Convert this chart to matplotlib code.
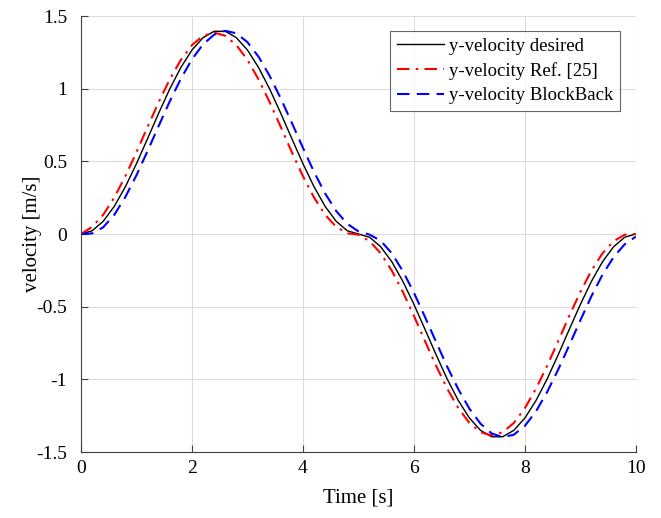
import numpy as np
import matplotlib
matplotlib.use('Agg')
import matplotlib.pyplot as plt

# sample times (s)
t = [round(0.2 * i, 1) for i in range(51)]

# y-velocity desired
v_desired = [0, 0.022, 0.087, 0.190, 0.325, 0.484, 0.656, 0.831, 0.998, 1.146,
             1.266, 1.351, 1.395, 1.395, 1.351, 1.266, 1.146, 0.998, 0.831, 0.656,
             0.484, 0.325, 0.190, 0.087, 0.022, 0,
             -0.022, -0.087, -0.190, -0.325, -0.484, -0.656, -0.831, -0.998, -1.146,
             -1.266, -1.351, -1.395, -1.395, -1.351, -1.266, -1.146, -0.998, -0.831,
             -0.656, -0.484, -0.325, -0.190, -0.087, -0.022, 0]

# y-velocity Ref. [25]
v_ref = [0, 0.049, 0.132, 0.251, 0.398, 0.563, 0.737, 0.907, 1.064, 1.198,
         1.300, 1.364, 1.386, 1.364, 1.300, 1.198, 1.064, 0.907, 0.737, 0.563,
         0.398, 0.251, 0.132, 0.049, 0.005, -0.005,
         -0.049, -0.132, -0.251, -0.398, -0.563, -0.737, -0.907, -1.064, -1.198,
         -1.300, -1.364, -1.386, -1.364, -1.300, -1.198, -1.064, -0.907, -0.737,
         -0.563, -0.398, -0.251, -0.132, -0.049, -0.005, 0]

# y-velocity BlockBack
v_block = [0, 0.004, 0.046, 0.132, 0.255, 0.404, 0.571, 0.743, 0.913, 1.068,
           1.202, 1.305, 1.372, 1.398, 1.381, 1.320, 1.220, 1.088, 0.933, 0.765,
           0.593, 0.427, 0.279, 0.158, 0.070, 0.018,
           -0.004, -0.046, -0.132, -0.255, -0.404, -0.571, -0.743, -0.913, -1.068,
           -1.202, -1.305, -1.372, -1.398, -1.381, -1.320, -1.220, -1.088, -0.933,
           -0.765, -0.593, -0.427, -0.279, -0.158, -0.070, -0.018]

xticks = [0, 2, 4, 6, 8, 10]
yticks = [-1.5, -1, -0.5, 0, 0.5, 1, 1.5]
ytick_labels = ['-1.5', '-1', '-0.5', '0', '0.5', '1', '1.5']

plt.rcParams['font.family'] = ['Liberation Serif', 'DejaVu Serif']

fig = plt.figure(figsize=(6.61, 5.18), dpi=100)
ax = fig.add_axes([0.1225, 0.1274, 0.8395, 0.8417])

ax.plot(t, v_desired, color='black', lw=1.0, label='y-velocity desired')
ax.plot(t, v_ref, color='red', lw=1.5, ls=(0, (6, 3, 1.2, 3)), label='y-velocity Ref. [25]')
ax.plot(t, v_block, color='blue', lw=1.5, ls=(0, (6, 3.5)), label='y-velocity BlockBack')

ax.set_xlim(0, 10)
ax.set_ylim(-1.5, 1.5)
ax.set_xticks(xticks)
ax.set_yticks(yticks)
ax.set_yticklabels(ytick_labels)
ax.grid(True, color='#dcdcdc', lw=0.8)
ax.set_axisbelow(True)

for s in ['top', 'right']:
    ax.spines[s].set_visible(False)
for s in ['left', 'bottom']:
    ax.spines[s].set_color('#404040')
    ax.spines[s].set_linewidth(0.8)
ax.tick_params(direction='in', length=5, width=0.8, color='#404040', labelsize=14)
ax.tick_params(axis='y', pad=10)
ax.tick_params(axis='x', pad=6)

ax.set_xlabel('Time [s]', fontsize=15, labelpad=8)
ax.set_ylabel('velocity [m/s]', fontsize=15, labelpad=-4)

leg = ax.legend(loc='upper right', bbox_to_anchor=(0.9715, 0.965), fontsize=13.5,
                frameon=True, fancybox=False, handlelength=2.5, handletextpad=0.3,
                borderpad=0.35, labelspacing=0.38, borderaxespad=0)
leg.get_frame().set_edgecolor('#404040')
leg.get_frame().set_linewidth(0.8)

fig.savefig('out.png', dpi=100)
